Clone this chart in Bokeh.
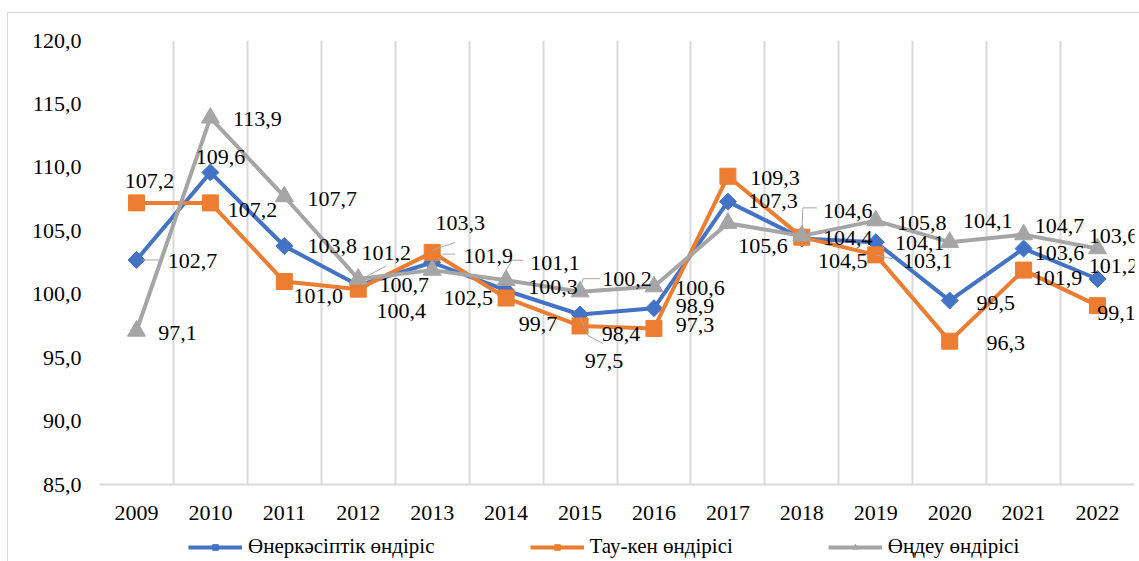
import math
from bokeh.plotting import figure
from bokeh.layouts import column
from bokeh.models import (Range1d, FixedTicker, CustomJSTickFormatter, ColumnDataSource,
                          Legend, LegendItem)
from bokeh.core.properties import value
from bokeh.embed import file_html
from bokeh.resources import INLINE

# ---------------- data ----------------
years = [2009, 2010, 2011, 2012, 2013, 2014, 2015, 2016, 2017, 2018, 2019, 2020, 2021, 2022]
industry = [102.7, 109.6, 103.8, 100.7, 102.5, 100.3, 98.4, 98.9, 107.3, 104.4, 104.1, 99.5, 103.6, 101.2]
mining = [107.2, 107.2, 101.0, 100.4, 103.3, 99.7, 97.5, 97.3, 109.3, 104.5, 103.1, 96.3, 101.9, 99.1]
manufacturing = [97.1, 113.9, 107.7, 101.2, 101.9, 101.1, 100.2, 100.6, 105.6, 104.6, 105.8, 104.1, 104.7, 103.6]
series_names = ["Өнеркәсіптік өндіріс", "Тау-кен өндірісі", "Өңдеу өндірісі"]
y_ticks = [85, 90, 95, 100, 105, 110, 115, 120]

# ---------------- styles / layout ----------------
colors = ["#4472C4", "#ED7D31", "#A5A5A5"]
markers = ["square", "square", "triangle"]
marker_angles = [math.pi / 4, 0.0, 0.0]
marker_sizes = [12, 16, 18]
FONT = "Liberation Serif"
FS = "22px"

# label offsets in pixels (dx right, dy down) per series
label_dx = [
    [56, 10, 48, 46, 36, 47, 41, 41, 45, 46, 44, 46, 36, 16],
    [13, 42, 34, 43, 28, 32, 24, 41, 47, 41, 52, 56, 34, 19],
    [41, 47, 48, 28, 56, 49, 47, 46, 35, 46, 46, 38, 36, 16],
]
label_dy = [
    [1, -15, 0, 0, 35, -3, 19, -2, -1, 0, 1, 2, 4, -13],
    [-22, 7, 14, 22, -29, 26, 35, -3, 2, 24, 6, 2, 8, 7],
    [2, 1, 2, -26, -14, -17, -13, 1, 23, -25, 2, -21, -9, -13],
]
# leader lines: (series, year index, list of pixel offsets)
leaders = [
    (0, 0, [(6, 0), (24, 0)]),
    (2, 3, [(7, -2), (28, -13)]),
    (1, 4, [(0, -2), (23, -10)]),
    (2, 4, [(1, -6), (11, -16), (23, -16)]),
    (2, 5, [(-3, -5), (6, -20), (17, -20)]),
    (2, 6, [(0, -3), (3, -13), (20, -13)]),
    (0, 6, [(0, 3), (8, 21), (23, 29)]),
    (2, 9, [(0, 2), (1, -28), (15, -28)]),
    (1, 10, [(0, 0), (17, 4)]),
]

W, H1, H2 = 1139, 530, 31
B_LEFT, B_RIGHT, B_TOP, B_BOTTOM = 99, 5, 40, 46
frame_w = W - B_LEFT - B_RIGHT
frame_h = H1 - B_TOP - B_BOTTOM
x0, x1 = years[0] - 0.5, years[-1] + 0.5
y0, y1 = y_ticks[0], y_ticks[-1]
px_x = frame_w / (x1 - x0)
px_y = frame_h / (y1 - y0)

p = figure(width=W, height=H1, output_backend="svg", toolbar_location=None,
           x_range=Range1d(x0, x1), y_range=Range1d(y0, y1),
           min_border_left=B_LEFT, min_border_right=B_RIGHT,
           min_border_top=B_TOP, min_border_bottom=B_BOTTOM,
           background_fill_color="white", border_fill_color=None)
p.outline_line_color = None

# axes
p.xaxis.ticker = FixedTicker(ticks=years)
p.xaxis.formatter = CustomJSTickFormatter(code="return String(Math.round(tick));")
p.xaxis.major_tick_line_color = None
p.xaxis.minor_tick_line_color = None
p.xaxis.axis_line_color = "#d9d9d9"
p.xaxis.axis_line_width = 2
p.xaxis.major_label_text_font = FONT
p.xaxis.major_label_text_font_size = FS
p.xaxis.major_label_text_color = "black"
p.xaxis.major_label_standoff = 15

p.yaxis.ticker = FixedTicker(ticks=y_ticks)
p.yaxis.formatter = CustomJSTickFormatter(code="return tick.toFixed(1).replace('.', ',');")
p.yaxis.major_tick_line_color = None
p.yaxis.minor_tick_line_color = None
p.yaxis.axis_line_color = None
p.yaxis.major_label_text_font = FONT
p.yaxis.major_label_text_font_size = FS
p.yaxis.major_label_text_color = "black"
p.yaxis.major_label_standoff = 12

# grid
p.ygrid.grid_line_color = None
p.xgrid.ticker = FixedTicker(ticks=[y + 0.5 for y in [years[0] - 1] + years])
p.xgrid.grid_line_color = "#d9d9d9"
p.xgrid.grid_line_width = 2

all_series = [industry, mining, manufacturing]
for i, vals in enumerate(all_series):
    src = ColumnDataSource(dict(x=years, y=vals))
    p.line("x", "y", source=src, line_color=colors[i], line_width=4)
    p.scatter("x", "y", source=src, marker=markers[i], size=marker_sizes[i],
              angle=marker_angles[i], fill_color=colors[i], line_color=colors[i])

# leader lines
for s, k, pts in leaders:
    xs = [years[k] + dx / px_x for dx, dy in pts]
    ys = [all_series[s][k] - dy / px_y for dx, dy in pts]
    p.line(xs, ys, line_color="#A5A5A5", line_width=1)

# data labels
for i, vals in enumerate(all_series):
    src = ColumnDataSource(dict(x=years, y=vals,
                                t=[f"{v:.1f}".replace(".", ",") for v in vals],
                                dx=label_dx[i], dy=label_dy[i]))
    p.text("x", "y", text="t", source=src, x_offset="dx", y_offset="dy",
           text_align="center", text_baseline="middle",
           text_font=value(FONT), text_font_size=FS, text_color="black")

# ---------------- legend strip ----------------
lg = figure(width=W, height=H2, output_backend="svg", toolbar_location=None,
            x_range=Range1d(0, 1), y_range=Range1d(0, 1),
            min_border=0, background_fill_color=None, border_fill_color=None)
lg.axis.visible = False
lg.grid.visible = False
lg.outline_line_color = None
legend_items = []
for i, vals in enumerate(all_series):
    src = ColumnDataSource(dict(x=years, y=vals))
    ln = lg.line("x", "y", source=src, line_color=colors[i], line_width=4)
    sc = lg.scatter("x", "y", source=src, marker=markers[i], size=marker_sizes[i] * 0.6,
                    angle=marker_angles[i], fill_color=colors[i], line_color=colors[i])
    legend_items.append(LegendItem(label=series_names[i], renderers=[ln, sc]))

legend = Legend(items=legend_items, orientation="horizontal", location=(89, 2),
                glyph_width=54, glyph_height=14, label_height=14, label_standoff=6,
                spacing=95, padding=0, margin=0,
                label_text_font=FONT, label_text_font_size="21px", label_text_color="black",
                background_fill_alpha=0, border_line_color=None)
lg.add_layout(legend, "center")

border_css = {
    "background-color": "white",
    "background-image": "linear-gradient(#d9d9d9, #d9d9d9), linear-gradient(#d9d9d9, #d9d9d9)",
    "background-size": "1px 100%, 100% 1px",
    "background-position": "7px 12px, 7px 12px",
    "background-repeat": "no-repeat",
}
layout = column(p, lg, spacing=0, styles=border_css)
open("out.html", "w").write(file_html(layout, INLINE))
